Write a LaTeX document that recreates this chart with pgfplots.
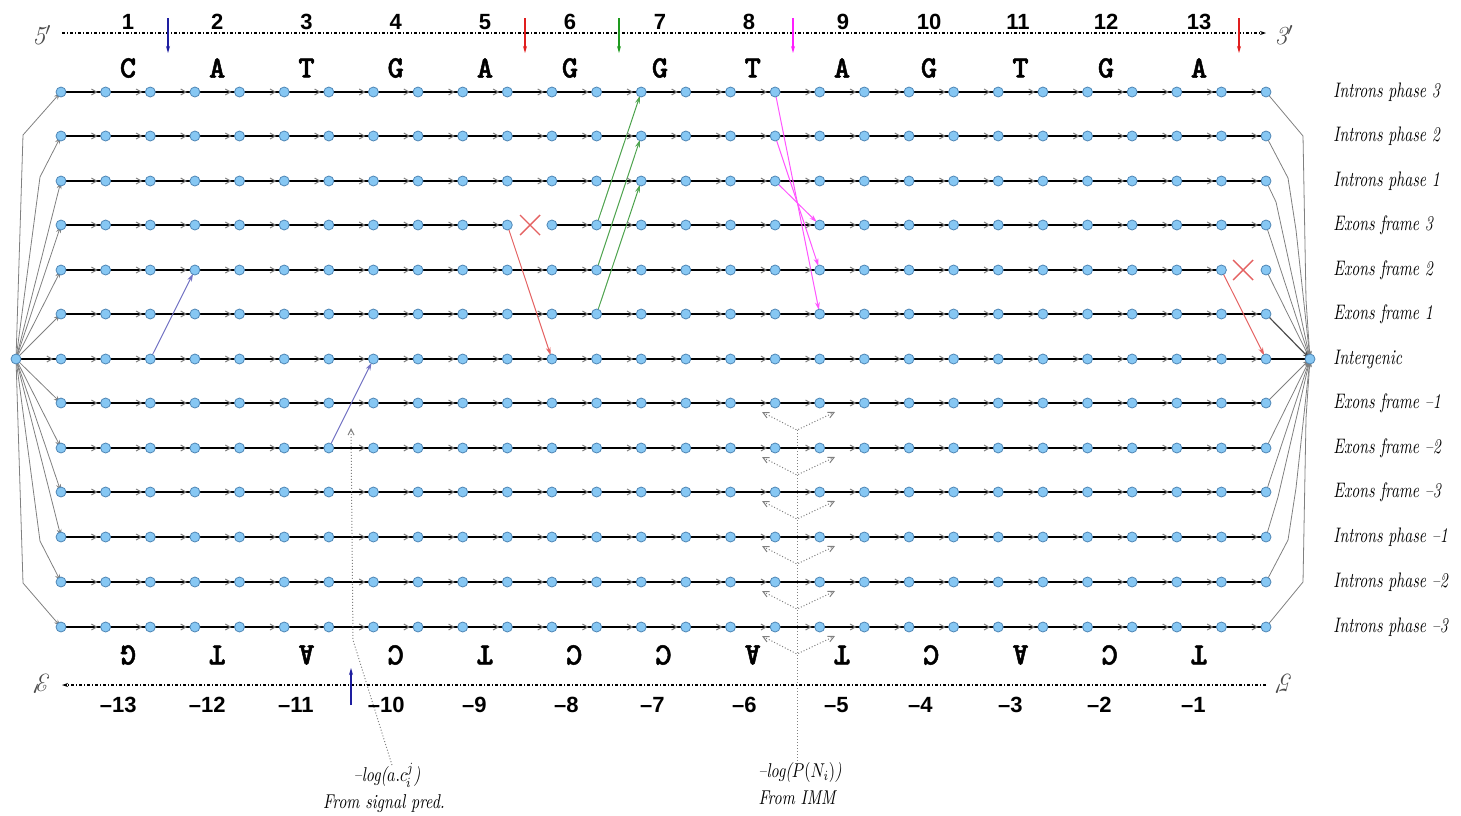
\documentclass[border=0pt]{standalone}
\usepackage{graphicx}
\usepackage{pgfplots}
\pgfplotsset{compat=1.18}
\usepackage{pgfplotstable}
\usepackage{fontspec}
\usetikzlibrary{arrows.meta}
\newfontfamily\hel{Liberation Sans}
\newfontfamily\cour[Extension=.otf, FakeBold=1.6]{lmmonolt10-bold}
\definecolor{nodefill}{HTML}{86C7F3}
\definecolor{nodedraw}{HTML}{4F86B5}
\definecolor{tblue}{HTML}{7474C4}
\definecolor{tred}{HTML}{E46262}
\definecolor{tgreen}{HTML}{4FA44F}
\definecolor{tmag}{HTML}{FF55FF}
\definecolor{ablue}{HTML}{1E1EA0}
\definecolor{ared}{HTML}{E01E1E}
\definecolor{agreen}{HTML}{1E9A1E}
\definecolor{amag}{HTML}{FF1EFF}
\pgfdeclareplotmark{chev}{%
  \pgfpathmoveto{\pgfqpoint{-2.6pt}{1.5pt}}%
  \pgfpathlineto{\pgfqpoint{0pt}{0pt}}%
  \pgfpathlineto{\pgfqpoint{-2.6pt}{-1.5pt}}%
  \pgfusepathqstroke}

\pgfplotstableread{
x d
61.0 0
105.6 0
150.3 0
194.9 0
239.5 0
284.2 0
328.8 0
373.4 0
418.0 0
462.7 0
507.3 0
551.9 0
596.6 0
641.2 0
685.8 0
730.5 0
775.1 0
819.7 0
864.3 0
909.0 0
953.6 0
998.2 0
1042.9 0
1087.5 0
1132.1 0
1176.8 0
1221.4 0
1266.0 0
}\nodex

\pgfplotstableread{
x d
96.6 0
141.3 0
185.9 0
230.5 0
275.2 0
319.8 0
364.4 0
409.0 0
453.7 0
498.3 0
542.9 0
587.6 0
632.2 0
676.8 0
721.5 0
766.1 0
810.7 0
855.3 0
900.0 0
944.6 0
989.2 0
1033.9 0
1078.5 0
1123.1 0
1167.8 0
1212.4 0
1257.0 0
}\chevall

\pgfplotstableread{
x d
96.6 0
141.3 0
185.9 0
230.5 0
275.2 0
319.8 0
364.4 0
409.0 0
453.7 0
498.3 0
587.6 0
632.2 0
676.8 0
721.5 0
766.1 0
810.7 0
855.3 0
900.0 0
944.6 0
989.2 0
1033.9 0
1078.5 0
1123.1 0
1167.8 0
1212.4 0
1257.0 0
}\chevA

\pgfplotstableread{
x d
96.6 0
141.3 0
185.9 0
230.5 0
275.2 0
319.8 0
364.4 0
409.0 0
453.7 0
498.3 0
542.9 0
587.6 0
632.2 0
676.8 0
721.5 0
766.1 0
810.7 0
855.3 0
900.0 0
944.6 0
989.2 0
1033.9 0
1078.5 0
1123.1 0
1167.8 0
1212.4 0
}\chevB

\begin{document}
\begin{tikzpicture}
\begin{axis}[
  width=730.5pt, height=407.5pt, scale only axis,
  xmin=0, xmax=1461, ymin=0, ymax=815, y dir=reverse,
  hide axis, clip=false,
]
% ---- fan lines, left
\addplot[gray, line width=0.4pt, -{Stealth[length=4pt,width=2.4pt]}] coordinates {(16,359)(23,135)(61,92)};
\addplot[gray, line width=0.4pt, -{Stealth[length=4pt,width=2.4pt]}] coordinates {(16,359)(40,177)(61,136)};
\addplot[gray, line width=0.4pt, -{Stealth[length=4pt,width=2.4pt]}] coordinates {(16,359)(61,181)};
\addplot[gray, line width=0.4pt, -{Stealth[length=4pt,width=2.4pt]}] coordinates {(16,359)(61,225)};
\addplot[gray, line width=0.4pt, -{Stealth[length=4pt,width=2.4pt]}] coordinates {(16,359)(61,270)};
\addplot[gray, line width=0.4pt, -{Stealth[length=4pt,width=2.4pt]}] coordinates {(16,359)(61,314)};
\addplot[gray, line width=0.4pt, -{Stealth[length=4pt,width=2.4pt]}] coordinates {(16,359)(61,403)};
\addplot[gray, line width=0.4pt, -{Stealth[length=4pt,width=2.4pt]}] coordinates {(16,359)(61,448)};
\addplot[gray, line width=0.4pt, -{Stealth[length=4pt,width=2.4pt]}] coordinates {(16,359)(61,492)};
\addplot[gray, line width=0.4pt, -{Stealth[length=4pt,width=2.4pt]}] coordinates {(16,359)(61,537)};
\addplot[gray, line width=0.4pt, -{Stealth[length=4pt,width=2.4pt]}] coordinates {(16,359)(40,541)(61,582)};
\addplot[gray, line width=0.4pt, -{Stealth[length=4pt,width=2.4pt]}] coordinates {(16,359)(23,583)(61,627)};
% ---- fan lines, right
\addplot[gray, line width=0.4pt, -{Stealth[length=4pt,width=2.4pt]}] coordinates {(1266,92)(1303,136)(1306,300)(1310,359)};
\addplot[gray, line width=0.4pt, -{Stealth[length=4pt,width=2.4pt]}] coordinates {(1266,136)(1288,178)(1296,230)(1310,359)};
\addplot[gray, line width=0.4pt, -{Stealth[length=4pt,width=2.4pt]}] coordinates {(1266,181)(1276,202)(1310,359)};
\addplot[gray, line width=0.4pt, -{Stealth[length=4pt,width=2.4pt]}] coordinates {(1266,225)(1310,359)};
\addplot[gray, line width=0.4pt, -{Stealth[length=4pt,width=2.4pt]}] coordinates {(1266,270)(1310,359)};
\addplot[black!70, line width=0.6pt, -{Stealth[length=4pt,width=2.4pt]}] coordinates {(1266,314)(1310,359)};
\addplot[gray, line width=0.4pt, -{Stealth[length=4pt,width=2.4pt]}] coordinates {(1266,403)(1310,359)};
\addplot[gray, line width=0.4pt, -{Stealth[length=4pt,width=2.4pt]}] coordinates {(1266,448)(1310,359)};
\addplot[gray, line width=0.4pt, -{Stealth[length=4pt,width=2.4pt]}] coordinates {(1266,492)(1310,359)};
\addplot[gray, line width=0.4pt, -{Stealth[length=4pt,width=2.4pt]}] coordinates {(1266,537)(1278,497)(1310,359)};
\addplot[gray, line width=0.4pt, -{Stealth[length=4pt,width=2.4pt]}] coordinates {(1266,582)(1288,540)(1296,488)(1310,359)};
\addplot[gray, line width=0.4pt, -{Stealth[length=4pt,width=2.4pt]}] coordinates {(1266,627)(1303,582)(1306,418)(1310,359)};

% ---- row lines
\pgfplotsinvokeforeach{92,136,181,314,403,448,492,537,582,627}{
  \addplot[black, line width=1pt] coordinates {(61,#1)(1266,#1)};
}
\addplot[black, line width=1pt] coordinates {(61,225)(507.3,225)};
\addplot[black, line width=1pt] coordinates {(551.9,225)(1266,225)};
\addplot[black, line width=1pt] coordinates {(61,270)(1221.4,270)};
\addplot[black, line width=1pt] coordinates {(16,359)(1310,359)};

% ---- small chevrons
\pgfplotsinvokeforeach{92,136,181,314,359,403,448,492,537,582,627}{
  \addplot[only marks, mark=chev, gray, mark options={line width=0.5pt}] table[x=x, y expr=#1] {\chevall};
}
\addplot[only marks, mark=chev, gray, mark options={line width=0.5pt}] table[x=x, y expr=225] {\chevA};
\addplot[only marks, mark=chev, gray, mark options={line width=0.5pt}] table[x=x, y expr=270] {\chevB};
\addplot[only marks, mark=chev, gray, mark options={line width=0.5pt}] coordinates {(52,359)};

% ---- transitions
\addplot[tblue, line width=0.5pt, -{Stealth[length=4pt,width=2.4pt]}, shorten >=2pt] coordinates {(150.3,359)(194.9,270)};
\addplot[tblue, line width=0.5pt, -{Stealth[length=4pt,width=2.4pt]}, shorten >=2pt] coordinates {(328.8,448)(373.4,359)};
\addplot[tred, line width=0.5pt, -{Stealth[length=4pt,width=2.4pt]}, shorten >=2pt] coordinates {(507.3,225)(551.9,359)};
\addplot[tred, line width=0.5pt, -{Stealth[length=4pt,width=2.4pt]}, shorten >=2pt] coordinates {(1221.4,270)(1266,359)};
\addplot[tgreen, line width=0.5pt, -{Stealth[length=4pt,width=2.4pt]}, shorten >=2pt] coordinates {(596.6,225)(641.2,92)};
\addplot[tgreen, line width=0.5pt, -{Stealth[length=4pt,width=2.4pt]}, shorten >=2pt] coordinates {(596.6,270)(641.2,136)};
\addplot[tgreen, line width=0.5pt, -{Stealth[length=4pt,width=2.4pt]}, shorten >=2pt] coordinates {(596.6,314)(641.2,181)};
\addplot[tmag, line width=0.5pt, -{Stealth[length=4pt,width=2.4pt]}, shorten >=2pt] coordinates {(775.1,92)(819.7,314)};
\addplot[tmag, line width=0.5pt, -{Stealth[length=4pt,width=2.4pt]}, shorten >=2pt] coordinates {(775.1,136)(819.7,270)};
\addplot[tmag, line width=0.5pt, -{Stealth[length=4pt,width=2.4pt]}, shorten >=2pt] coordinates {(775.1,181)(819.7,225)};
% red crosses
\addplot[tred, line width=0.7pt] coordinates {(520,215)(540,235)};
\addplot[tred, line width=0.7pt] coordinates {(520,235)(540,215)};
\addplot[tred, line width=0.7pt] coordinates {(1233,260)(1253,280)};
\addplot[tred, line width=0.7pt] coordinates {(1233,280)(1253,260)};

% ---- nodes
\pgfplotsinvokeforeach{92,136,181,225,270,314,359,403,448,492,537,582,627}{
  \addplot[only marks, mark=*, mark size=2.5pt, mark options={fill=nodefill, draw=nodedraw, line width=0.4pt}] table[x=x, y expr=#1] {\nodex};
}
\addplot[only marks, mark=*, mark size=2.5pt, mark options={fill=nodefill, draw=nodedraw, line width=0.4pt}] coordinates {(16,359)(1310,359)};

% ---- gray dotted annotations
\addplot[gray, densely dotted, line width=0.5pt, -{Straight Barb[length=3pt,width=3pt]}] coordinates {(392,765)(353,640)(351,428)};
\addplot[gray, densely dotted, line width=0.5pt] coordinates {(797,430)(797,762)};
\addplot[gray, densely dotted, line width=0.5pt, {Straight Barb[length=3pt,width=3pt]}-{Straight Barb[length=3pt,width=3pt]}] coordinates {(762,412)(797,430)(835,412)};
\addplot[gray, densely dotted, line width=0.5pt, {Straight Barb[length=3pt,width=3pt]}-{Straight Barb[length=3pt,width=3pt]}] coordinates {(762,457)(797,475)(835,457)};
\addplot[gray, densely dotted, line width=0.5pt, {Straight Barb[length=3pt,width=3pt]}-{Straight Barb[length=3pt,width=3pt]}] coordinates {(762,501)(797,519)(835,501)};
\addplot[gray, densely dotted, line width=0.5pt, {Straight Barb[length=3pt,width=3pt]}-{Straight Barb[length=3pt,width=3pt]}] coordinates {(762,546)(797,564)(835,546)};
\addplot[gray, densely dotted, line width=0.5pt, {Straight Barb[length=3pt,width=3pt]}-{Straight Barb[length=3pt,width=3pt]}] coordinates {(762,591)(797,609)(835,591)};
\addplot[gray, densely dotted, line width=0.5pt, {Straight Barb[length=3pt,width=3pt]}-{Straight Barb[length=3pt,width=3pt]}] coordinates {(762,636)(797,654)(835,636)};

% ---- strand lines
\addplot[black, line width=0.6pt, dash pattern=on 1.5pt off 1pt on 0.5pt off 1pt, -{Stealth[length=3pt,width=2pt]}] coordinates {(62,33)(1266,33)};
\addplot[black, line width=0.6pt, dash pattern=on 1.5pt off 1pt on 0.5pt off 1pt, -{Stealth[length=3pt,width=2pt]}] coordinates {(1266,685)(62,685)};

% ---- colored signal arrows
\addplot[ablue, line width=0.6pt, -{Stealth[length=3.5pt,width=2pt]}] coordinates {(168,18)(168,53)};
\addplot[ared, line width=0.6pt, -{Stealth[length=3.5pt,width=2pt]}] coordinates {(525,18)(525,53)};
\addplot[agreen, line width=0.6pt, -{Stealth[length=3.5pt,width=2pt]}] coordinates {(619,18)(619,53)};
\addplot[amag, line width=0.6pt, -{Stealth[length=3.5pt,width=2pt]}] coordinates {(793,18)(793,53)};
\addplot[ared, line width=0.6pt, -{Stealth[length=3.5pt,width=2pt]}] coordinates {(1239,18)(1239,53)};
\addplot[ablue, line width=0.6pt, -{Stealth[length=3.5pt,width=2pt]}] coordinates {(351,705)(351,668)};

% ---- texts
\tikzset{num/.style={font=\hel\bfseries\fontsize{11}{11}\selectfont, inner sep=0pt},
         base/.style={font=\cour\fontsize{15.5}{15.5}\selectfont, inner sep=0pt},
         lab/.style={font=\itshape\fontsize{10.5}{10.5}\selectfont, inner sep=0pt, anchor=west}}
\node[num] at (axis cs:128.0,22) {1};
\node[num] at (axis cs:217.2,22) {2};
\node[num] at (axis cs:306.5,22) {3};
\node[num] at (axis cs:395.7,22) {4};
\node[num] at (axis cs:485.0,22) {5};
\node[num] at (axis cs:570.0,22) {6};
\node[num] at (axis cs:660.0,22) {7};
\node[num] at (axis cs:749.0,22) {8};
\node[num] at (axis cs:843.0,22) {9};
\node[num] at (axis cs:929.0,22) {10};
\node[num] at (axis cs:1018.0,22) {11};
\node[num] at (axis cs:1106.0,22) {12};
\node[num] at (axis cs:1199.0,22) {13};

\node[base] at (axis cs:128.0,68) {C};
\node[base] at (axis cs:217.2,68) {A};
\node[base] at (axis cs:306.5,68) {T};
\node[base] at (axis cs:395.7,68) {G};
\node[base] at (axis cs:485.0,68) {A};
\node[base] at (axis cs:570.0,68) {G};
\node[base] at (axis cs:660.0,68) {G};
\node[base] at (axis cs:752.7,68) {T};
\node[base] at (axis cs:842.0,68) {A};
\node[base] at (axis cs:929.0,68) {G};
\node[base] at (axis cs:1020.5,68) {T};
\node[base] at (axis cs:1106.0,68) {G};
\node[base] at (axis cs:1199.0,68) {A};

\node[base, rotate=180] at (axis cs:128.0,655) {G};
\node[base, rotate=180] at (axis cs:217.2,655) {T};
\node[base, rotate=180] at (axis cs:306.5,655) {A};
\node[base, rotate=180] at (axis cs:395.7,655) {C};
\node[base, rotate=180] at (axis cs:485.0,655) {T};
\node[base, rotate=180] at (axis cs:574.2,655) {C};
\node[base, rotate=180] at (axis cs:663.5,655) {C};
\node[base, rotate=180] at (axis cs:752.7,655) {A};
\node[base, rotate=180] at (axis cs:842.0,655) {T};
\node[base, rotate=180] at (axis cs:931.2,655) {C};
\node[base, rotate=180] at (axis cs:1020.5,655) {A};
\node[base, rotate=180] at (axis cs:1109.7,655) {C};
\node[base, rotate=180] at (axis cs:1199.0,655) {T};

\node[num, anchor=east] at (axis cs:137,705) {–13};
\node[num, anchor=east] at (axis cs:226,705) {–12};
\node[num, anchor=east] at (axis cs:314,705) {–11};
\node[num, anchor=east] at (axis cs:405,705) {–10};
\node[num, anchor=east] at (axis cs:487,705) {–9};
\node[num, anchor=east] at (axis cs:579,705) {–8};
\node[num, anchor=east] at (axis cs:665,705) {–7};
\node[num, anchor=east] at (axis cs:757,705) {–6};
\node[num, anchor=east] at (axis cs:849,705) {–5};
\node[num, anchor=east] at (axis cs:933,705) {–4};
\node[num, anchor=east] at (axis cs:1023,705) {–3};
\node[num, anchor=east] at (axis cs:1112,705) {–2};
\node[num, anchor=east] at (axis cs:1206,705) {–1};

\node[font=\itshape\fontsize{13}{13}\selectfont, inner sep=0pt, gray!60!black] at (axis cs:42,35) {5$'$};
\node[font=\itshape\fontsize{13}{13}\selectfont, inner sep=0pt, gray!60!black] at (axis cs:1284,35) {3$'$};
\node[font=\itshape\fontsize{13}{13}\selectfont, inner sep=0pt, gray!60!black, rotate=180] at (axis cs:42,684) {3$'$};
\node[font=\itshape\fontsize{13}{13}\selectfont, inner sep=0pt, gray!60!black, rotate=180] at (axis cs:1284,684) {5$'$};

\node[lab] at (axis cs:1333,92) {\scalebox{0.75}[1]{Introns phase 3}};
\node[lab] at (axis cs:1333,136) {\scalebox{0.75}[1]{Introns phase 2}};
\node[lab] at (axis cs:1333,181) {\scalebox{0.75}[1]{Introns phase 1}};
\node[lab] at (axis cs:1333,225) {\scalebox{0.75}[1]{Exons frame 3}};
\node[lab] at (axis cs:1333,270) {\scalebox{0.75}[1]{Exons frame 2}};
\node[lab] at (axis cs:1333,314) {\scalebox{0.75}[1]{Exons frame 1}};
\node[lab] at (axis cs:1333,359) {\scalebox{0.75}[1]{Intergenic}};
\node[lab] at (axis cs:1333,403) {\scalebox{0.75}[1]{Exons frame –1}};
\node[lab] at (axis cs:1333,448) {\scalebox{0.75}[1]{Exons frame –2}};
\node[lab] at (axis cs:1333,492) {\scalebox{0.75}[1]{Exons frame –3}};
\node[lab] at (axis cs:1333,537) {\scalebox{0.75}[1]{Introns phase –1}};
\node[lab] at (axis cs:1333,582) {\scalebox{0.75}[1]{Introns phase –2}};
\node[lab] at (axis cs:1333,627) {\scalebox{0.75}[1]{Introns phase –3}};

\node[font=\itshape\fontsize{10}{10}\selectfont, inner sep=0pt] at (axis cs:387,775) {\scalebox{0.8}[1]{–log($a.c^j_{\kern-0.5pt i}$)}};
\node[font=\itshape\fontsize{10}{10}\selectfont, inner sep=0pt] at (axis cs:384,804) {\scalebox{0.8}[1]{From signal pred.}};
\node[font=\itshape\fontsize{10}{10}\selectfont, inner sep=0pt] at (axis cs:800,772) {\scalebox{0.8}[1]{–log($P(N_i)$)}};
\node[font=\itshape\fontsize{10}{10}\selectfont, inner sep=0pt] at (axis cs:797,798) {\scalebox{0.8}[1]{From IMM}};
\end{axis}
\pgfresetboundingbox
\path (current axis.south west) rectangle (current axis.north east);
\end{tikzpicture}
\end{document}
